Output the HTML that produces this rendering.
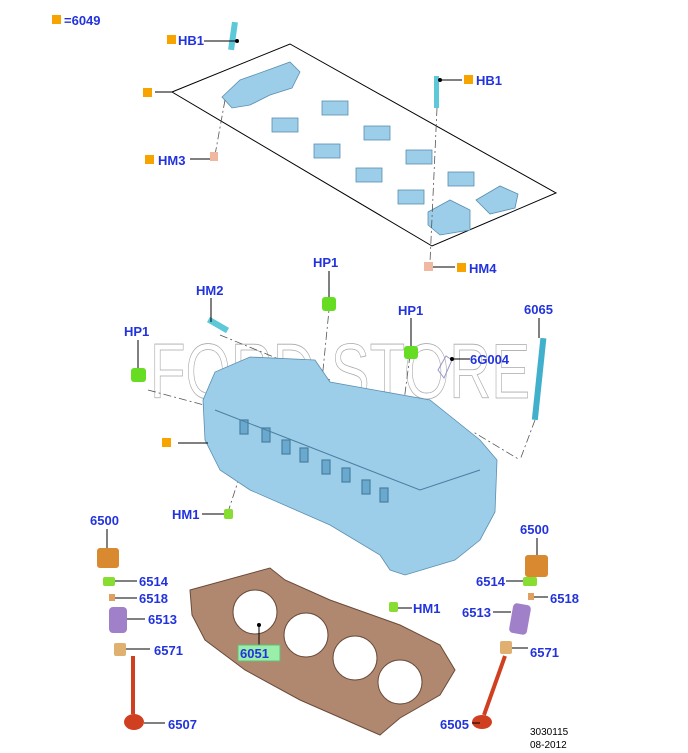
<!DOCTYPE html>
<html><head><style>
html,body{margin:0;padding:0;background:#fff;}
svg{display:block;}
.l{font-family:"Liberation Sans",sans-serif;font-weight:bold;font-size:13px;fill:#2233dd;}
.k{stroke:#000;stroke-width:1;fill:none;}
.d{stroke:#555;stroke-width:0.8;fill:none;stroke-dasharray:8 3 2 3;}
.bl{fill:#9ccde9;stroke:#5a8fb0;stroke-width:0.8;}
</style></head><body>
<svg width="688" height="753" viewBox="0 0 688 753" xmlns="http://www.w3.org/2000/svg">
<!-- watermark -->
<text x="150" y="398" font-family="Liberation Sans,sans-serif" font-size="78" fill="none" stroke="#aaa" stroke-width="0.8" textLength="380" lengthAdjust="spacingAndGlyphs">FORD STORE</text>

<rect x="52" y="15" width="9" height="9" fill="#f7a400"/>
<text x="64" y="25" class="l">=6049</text>

<!-- bearing cap frame -->
<polygon points="172,92 290,44 556,193 432,246" class="k"/>
<line x1="155" y1="92" x2="172" y2="92" class="k"/>
<rect x="143" y="88" width="9" height="9" fill="#f7a400"/>
<g class="bl">
<path d="M222,97 L240,80 L268,70 L290,62 L300,72 L292,88 L270,95 L250,105 L232,108 Z"/>
<rect x="272" y="118" width="26" height="14"/><rect x="322" y="101" width="26" height="14"/>
<rect x="314" y="144" width="26" height="14"/><rect x="364" y="126" width="26" height="14"/>
<rect x="356" y="168" width="26" height="14"/><rect x="406" y="150" width="26" height="14"/>
<rect x="398" y="190" width="26" height="14"/><rect x="448" y="172" width="26" height="14"/>
<path d="M428,212 L450,200 L470,210 L470,230 L440,235 L428,225 Z"/>
<path d="M476,200 L500,186 L518,194 L515,208 L490,214 Z"/>
</g>
<rect x="230" y="22" width="6" height="28" fill="#5cc8d8" transform="rotate(8 233 36)"/>
<line x1="237" y1="41" x2="204" y2="41" class="k"/><circle cx="237" cy="41" r="2"/>
<rect x="167" y="35" width="9" height="9" fill="#f7a400"/><text x="178" y="45" class="l">HB1</text>
<rect x="434" y="76" width="5" height="32" fill="#5cc8d8"/>
<line x1="440" y1="80" x2="462" y2="80" class="k"/><circle cx="440" cy="80" r="2"/>
<rect x="464" y="75" width="9" height="9" fill="#f7a400"/><text x="476" y="85" class="l">HB1</text>
<line x1="225" y1="100" x2="215" y2="155" class="d"/>
<rect x="210" y="152" width="8" height="9" fill="#f0b8a0"/>
<line x1="190" y1="159" x2="210" y2="159" class="k"/>
<rect x="145" y="155" width="9" height="9" fill="#f7a400"/><text x="158" y="165" class="l">HM3</text>
<line x1="437" y1="108" x2="430" y2="262" class="d"/>
<rect x="424" y="262" width="9" height="9" fill="#f0b8a0"/>
<line x1="433" y1="267" x2="455" y2="267" class="k"/>
<rect x="457" y="263" width="9" height="9" fill="#f7a400"/><text x="469" y="273" class="l">HM4</text>

<line x1="148" y1="390" x2="260" y2="420" class="d"/>
<line x1="220" y1="335" x2="330" y2="380" class="d"/>
<line x1="330" y1="300" x2="318" y2="420" class="d"/>
<line x1="410" y1="355" x2="395" y2="470" class="d"/>
<line x1="535" y1="420" x2="520" y2="460" class="d"/>
<polyline points="470,460 475,433 520,460" class="d"/>
<line x1="245" y1="460" x2="228" y2="512" class="d"/>

<!-- cylinder head -->
<path class="bl" d="M203,400 L215,372 L250,357 L315,360 L330,382 L430,400 L480,440 L497,460 L495,512 L480,540 L455,560 L405,575 L390,570 L380,555 L330,525 L250,490 L220,470 L205,440 Z"/>
<g stroke="#4a7fa0" stroke-width="1.2" fill="#6aa9cf">
<rect x="240" y="420" width="8" height="14"/><rect x="262" y="428" width="8" height="14"/>
<rect x="282" y="440" width="8" height="14"/><rect x="300" y="448" width="8" height="14"/>
<rect x="322" y="460" width="8" height="14"/><rect x="342" y="468" width="8" height="14"/>
<rect x="362" y="480" width="8" height="14"/><rect x="380" y="488" width="8" height="14"/>
</g>
<path d="M215,410 L420,490 L480,470" stroke="#4a7fa0" fill="none"/>
<line x1="208" y1="443" x2="178" y2="443" class="k"/>
<rect x="162" y="438" width="9" height="9" fill="#f7a400"/>

<rect x="322" y="297" width="14" height="14" rx="3" fill="#66dd22"/>
<line x1="329" y1="271" x2="329" y2="297" class="k"/><text x="313" y="267" class="l">HP1</text>
<rect x="404" y="346" width="14" height="13" rx="3" fill="#66dd22"/>
<line x1="411" y1="318" x2="411" y2="346" class="k"/><text x="398" y="315" class="l">HP1</text>
<rect x="131" y="368" width="15" height="14" rx="3" fill="#66dd22"/>
<line x1="138" y1="340" x2="138" y2="368" class="k"/><text x="124" y="336" class="l">HP1</text>
<rect x="207" y="322" width="22" height="6" fill="#5cc8d8" transform="rotate(30 218 325)"/>
<line x1="211" y1="298" x2="211" y2="322" class="k"/><text x="196" y="295" class="l">HM2</text>
<rect x="536" y="338" width="6" height="82" fill="#40b0cc" transform="rotate(6 539 380)"/>
<line x1="539" y1="318" x2="539" y2="338" class="k"/><text x="524" y="314" class="l">6065</text>
<path d="M438,370 L446,356 L452,360 L444,378 Z" fill="none" stroke="#9999cc"/>
<line x1="452" y1="359" x2="470" y2="359" class="k"/><circle cx="452" cy="359" r="2"/><text x="470" y="364" class="l">6G004</text>
<rect x="224" y="509" width="9" height="10" rx="2" fill="#88dd33"/>
<line x1="202" y1="514" x2="224" y2="514" class="k"/><text x="172" y="519" class="l">HM1</text>
<rect x="389" y="602" width="9" height="10" rx="2" fill="#88dd33"/>
<line x1="398" y1="608" x2="412" y2="608" class="k"/><text x="413" y="613" class="l">HM1</text>

<!-- gasket -->
<path d="M190,590 L270,568 L285,580 L330,600 L400,625 L440,645 L455,670 L440,695 L400,718 L380,735 L300,700 L245,670 L205,640 L192,615 Z" fill="#b08870" stroke="#6a4a3a"/>
<g fill="#fff" stroke="#6a4a3a"><circle cx="255" cy="612" r="22"/><circle cx="306" cy="635" r="22"/><circle cx="355" cy="658" r="22"/><circle cx="400" cy="682" r="22"/></g>
<line x1="259" y1="625" x2="259" y2="646" class="k"/><circle cx="259" cy="625" r="2"/>
<rect x="238" y="645" width="42" height="16" fill="#99eeaa" stroke="#66bb77"/><text x="240" y="658" class="l">6051</text>

<!-- left valve train -->
<text x="90" y="525" class="l">6500</text><line x1="107" y1="529" x2="107" y2="548" class="k"/>
<rect x="97" y="548" width="22" height="20" rx="3" fill="#d98a30"/>
<rect x="103" y="577" width="12" height="9" rx="2" fill="#88dd33"/><line x1="115" y1="581" x2="137" y2="581" class="k"/><text x="139" y="586" class="l">6514</text>
<rect x="109" y="594" width="6" height="7" fill="#e0a060"/><line x1="115" y1="598" x2="137" y2="598" class="k"/><text x="139" y="603" class="l">6518</text>
<rect x="109" y="607" width="18" height="26" rx="4" fill="#a080c8"/><line x1="127" y1="619" x2="145" y2="619" class="k"/><text x="148" y="624" class="l">6513</text>
<rect x="114" y="643" width="12" height="13" rx="2" fill="#e0b070"/><line x1="126" y1="649" x2="150" y2="649" class="k"/><text x="154" y="655" class="l">6571</text>
<rect x="131" y="656" width="4" height="58" fill="#d04020"/><ellipse cx="134" cy="722" rx="10" ry="8" fill="#d04020"/>
<line x1="144" y1="723" x2="165" y2="723" class="k"/><text x="168" y="729" class="l">6507</text>

<!-- right valve train -->
<text x="520" y="534" class="l">6500</text><line x1="537" y1="538" x2="537" y2="555" class="k"/>
<rect x="525" y="555" width="23" height="22" rx="3" fill="#d98a30"/>
<rect x="523" y="577" width="14" height="9" rx="2" fill="#88dd33"/><line x1="506" y1="581" x2="523" y2="581" class="k"/><text x="476" y="586" class="l">6514</text>
<rect x="528" y="593" width="6" height="7" fill="#e0a060"/><line x1="534" y1="597" x2="548" y2="597" class="k"/><text x="550" y="603" class="l">6518</text>
<rect x="511" y="604" width="18" height="30" rx="4" fill="#a080c8" transform="rotate(10 520 619)"/><line x1="493" y1="612" x2="511" y2="612" class="k"/><text x="462" y="617" class="l">6513</text>
<rect x="500" y="641" width="12" height="13" rx="2" fill="#e0b070"/><line x1="512" y1="648" x2="528" y2="648" class="k"/><text x="530" y="657" class="l">6571</text>
<line x1="505" y1="656" x2="484" y2="715" stroke="#d04020" stroke-width="4"/><ellipse cx="482" cy="722" rx="10" ry="7" fill="#d04020"/>
<line x1="472" y1="723" x2="480" y2="723" class="k"/><text x="440" y="729" class="l">6505</text>

<text x="530" y="735" font-family="Liberation Sans,sans-serif" font-size="10" fill="#000">3030115</text>
<text x="530" y="748" font-family="Liberation Sans,sans-serif" font-size="10" fill="#000">08-2012</text>
</svg>
</body></html>
